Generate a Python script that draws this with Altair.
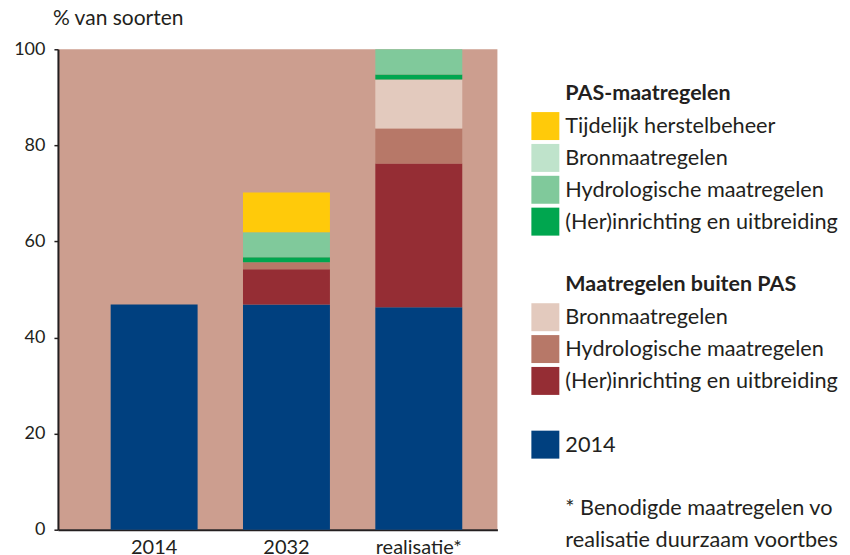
import altair as alt
import pandas as pd

# ---- data ----
categories = ["2014", "2032", "realisatie*"]
series = [
    "2014",
    "(Her)inrichting en uitbreiding (buiten PAS)",
    "Hydrologische maatregelen (buiten PAS)",
    "Bronmaatregelen (buiten PAS)",
    "(Her)inrichting en uitbreiding (PAS)",
    "Hydrologische maatregelen (PAS)",
    "Bronmaatregelen (PAS)",
    "Tijdelijk herstelbeheer",
]
colors = ["#00407F", "#952D34", "#B77868", "#E3CABE",
          "#00A64F", "#80C99B", "#BFE3CB", "#FFCA0A"]
values_2014 = [46.9, 0, 0, 0, 0, 0, 0, 0]
values_2032 = [46.9, 7.3, 1.45, 0, 1.05, 5.2, 0, 8.3]
values_real = [46.3, 29.9, 7.3, 10.2, 1.05, 5.25, 0, 0]

y_title = "% van soorten"
y_ticks = [0, 20, 40, 60, 80, 100]

legend_labels = ["PAS-maatregelen", "Tijdelijk herstelbeheer", "Bronmaatregelen",
                 "Hydrologische maatregelen", "(Her)inrichting en uitbreiding",
                 "Maatregelen buiten PAS", "Bronmaatregelen", "Hydrologische maatregelen",
                 "(Her)inrichting en uitbreiding", "2014",
                 "* Benodigde maatregelen voor", "realisatie duurzaam voortbestaan"]
legend_rows = [0, 1, 2, 3, 4, 6, 7, 8, 9, 11, 13, 14]
legend_style = ["bold", "normal", "normal", "normal", "normal", "bold", "normal",
                "normal", "normal", "normal", "note", "note"]
legend_swatch = [None, "#FFCA0A", "#BFE3CB", "#80C99B", "#00A64F", None,
                 "#E3CABE", "#B77868", "#952D34", "#00407F", None, None]

FONT = "Lato"
INK = "#231F20"
TAN = "#CC9E8F"

rows = []
for cat, vals in zip(categories, [values_2014, values_2032, values_real]):
    for i, (s, v) in enumerate(zip(series, vals)):
        rows.append({"cat": cat, "series": s, "value": v, "order": i})
df = pd.DataFrame(rows)

bars = alt.Chart(df).mark_bar(strokeWidth=0).encode(
    x=alt.X("cat:N", sort=categories,
            scale=alt.Scale(paddingInner=0.343, paddingOuter=0.332, align=0.6),
            axis=alt.Axis(title=None, labelAngle=0, ticks=False, domainColor=INK,
                          domainWidth=2, labelFontSize=20, labelFont=FONT,
                          labelColor=INK, labelPadding=8)),
    y=alt.Y("value:Q", stack="zero",
            scale=alt.Scale(domain=[0, 100], nice=False),
            axis=alt.Axis(title=None, values=y_ticks, grid=False,
                          domainColor=INK, domainWidth=2, tickColor=INK, tickSize=4,
                          tickWidth=1.5, labelFontSize=18, labelFont=FONT,
                          labelColor=INK, labelPadding=9)),
    color=alt.Color("series:N", scale=alt.Scale(domain=series, range=colors), legend=None),
    order=alt.Order("order:Q", sort="ascending"),
)

title_txt = alt.Chart(pd.DataFrame({"t": [y_title]})).mark_text(
    align="left", baseline="middle", fontSize=21, font=FONT, color=INK).encode(
    x=alt.value(-5), y=alt.value(-30), text="t:N")

main = alt.layer(bars, title_txt).properties(
    width=440, height=481, view=alt.ViewBackground(fill=TAN, strokeWidth=0))

leg = pd.DataFrame({"label": legend_labels, "row": legend_rows,
                    "style": legend_style,
                    "swatch": [c if c else "none" for c in legend_swatch]})

yscale = alt.Scale(domain=[-1.41, 13.67], reverse=True)
sw = alt.Chart(leg).transform_filter(alt.datum.swatch != "none").mark_square(
    size=784, opacity=1, strokeWidth=0).encode(
    x=alt.value(14),
    y=alt.Y("row:Q", scale=yscale, axis=None),
    color=alt.Color("swatch:N", scale=None, legend=None),
)
txt_norm = alt.Chart(leg).transform_filter(alt.datum.style == "normal").mark_text(
    align="left", baseline="middle", fontSize=21.7, font=FONT, color=INK).encode(
    x=alt.value(34),
    y=alt.Y("row:Q", scale=yscale, axis=None),
    text="label:N",
)
txt_note = alt.Chart(leg).transform_filter(alt.datum.style == "note").mark_text(
    align="left", baseline="middle", fontSize=21.7, font=FONT, color=INK,
    limit=277, ellipsis="\u200b").encode(
    x=alt.value(34),
    y=alt.Y("row:Q", scale=yscale, axis=None),
    text="label:N",
)
txt_bold = alt.Chart(leg).transform_filter(alt.datum.style == "bold").mark_text(
    align="left", baseline="middle", fontSize=21.5, font=FONT, color=INK,
    fontWeight="bold").encode(
    x=alt.value(34),
    y=alt.Y("row:Q", scale=yscale, axis=None),
    text="label:N",
)
legend = alt.layer(sw, txt_norm, txt_note, txt_bold).properties(
    width=311, height=481, view=alt.ViewBackground(strokeWidth=0))

chart = alt.hconcat(main, legend, spacing=34).properties(
    padding={"left": 5, "top": 0, "right": 0, "bottom": 0},
).configure_view(strokeWidth=0)

chart.save("out.html", embed_options={"renderer": "svg", "actions": False})
